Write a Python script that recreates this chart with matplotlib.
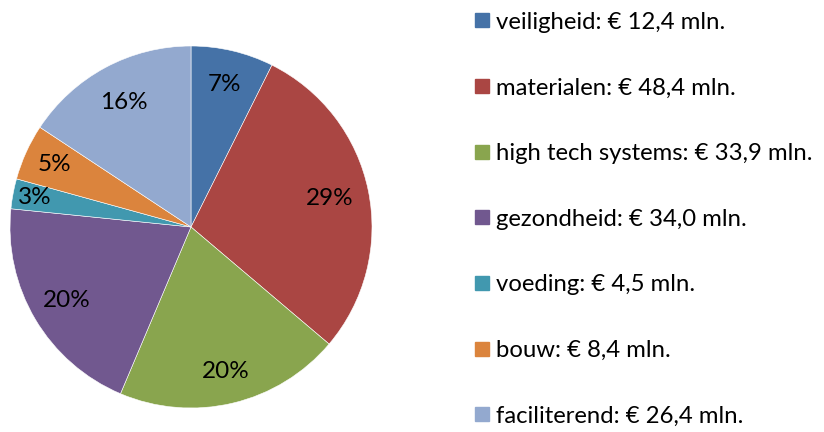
import matplotlib.pyplot as plt
from matplotlib.lines import Line2D
import numpy as np

plt.rcParams['font.family'] = ['Lato', 'DejaVu Sans']

# sectors and their amounts (mln euro)
sectors = ['veiligheid', 'materialen', 'high tech systems', 'gezondheid',
           'voeding', 'bouw', 'faciliterend']
amounts = [12.4, 48.4, 33.9, 34.0, 4.5, 8.4, 26.4]
amount_labels = ['12,4', '48,4', '33,9', '34,0', '4,5', '8,4', '26,4']
colors = ['#4572A7', '#AA4643', '#89A54E', '#71588F', '#4198AF', '#DB843D', '#93A9CF']

# radial position of percentage labels (fraction of radius)
label_dist = [0.81, 0.78, 0.82, 0.8, 0.88, 0.83, 0.78]

fig = plt.figure(figsize=(8.24, 4.32), dpi=100)
ax = fig.add_axes([10 / 824, 1 - 408 / 432, 362 / 824, 362 / 432])

wedges, _ = ax.pie(amounts, colors=colors, startangle=90, counterclock=False,
                   wedgeprops=dict(edgecolor='white', linewidth=0.4))
ax.set_xlim(-1, 1)
ax.set_ylim(-1, 1)
ax.set_aspect('equal')

total = sum(amounts)
for w, a, d in zip(wedges, amounts, label_dist):
    ang = np.deg2rad((w.theta1 + w.theta2) / 2)
    ax.text(d * np.cos(ang), d * np.sin(ang), '%d%%' % round(100 * a / total),
            ha='center', va='center', fontsize=17.5, color='black')

handles = [Line2D([], [], marker='s', linestyle='none', markersize=9.5,
                  markerfacecolor=c, markeredgecolor=c) for c in colors]
labels = [s + ': € ' + v + ' mln.' for s, v in zip(sectors, amount_labels)]
fig.legend(handles, labels, loc='upper left', bbox_to_anchor=(463 / 824, 0.995),
           frameon=False, fontsize=17.2, labelspacing=1.87, handlelength=0.8,
           handletextpad=0.2, borderaxespad=0.0)

fig.savefig('out.png', dpi=100)
